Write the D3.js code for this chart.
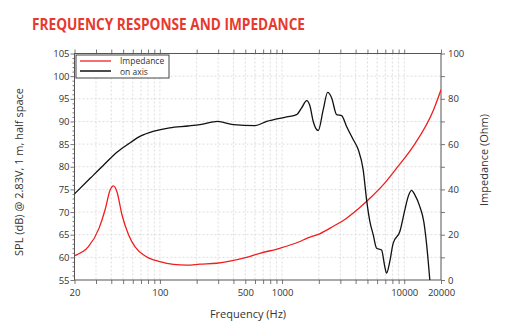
<!DOCTYPE html>
<html>
<meta charset="utf-8">
<style>
  body { margin: 0; background: #fff; }
  text { font-family: "Open Sans", "DejaVu Sans", sans-serif; fill: #333; }
  .grid line { stroke: #ddd; stroke-dasharray: 2,2; }
</style>
<body>
<script src="https://d3js.org/d3.v7.min.js"></script>
<script>
// SPL on axis (dB)
const splFreq = [20, 27, 35, 45, 55, 70, 88, 120, 170, 213, 298, 399, 600, 748, 1092, 1314, 1446, 1590, 1692, 1800, 1978, 2173, 2361, 2547, 2796, 3072, 3374, 3820, 4200, 4614, 4920, 5236, 5572, 5944, 6520, 6940, 7165, 7621, 8114, 9207, 10120, 10770, 11480, 12220, 13420, 14460, 15220, 16200];
const splDb = [74, 77.5, 80.5, 83.3, 85, 86.8, 87.8, 88.6, 89, 89.3, 90, 89.3, 89.1, 90, 91, 91.5, 93, 94.6, 93.4, 90, 88, 92.6, 96.4, 95.2, 91.5, 91.3, 88.9, 86, 83.8, 79.3, 72.7, 67.9, 65, 62, 61.6, 57.9, 56.5, 59.1, 63.1, 65.7, 70.5, 73.4, 74.8, 73.8, 71.2, 67.9, 63.1, 55];

// Impedance (Ohm)
const zFreq = [20, 26, 31.8, 35.6, 39.2, 41.7, 44.5, 48.9, 55.5, 62.9, 75.8, 100, 129, 166, 213, 292, 500, 657, 958, 1398, 1590, 2034, 2609, 3374, 4330, 5236, 6720, 8660, 11840, 17400, 20000];
const zOhm = [10.8, 14.7, 22.9, 31, 39.8, 41.6, 39, 28.8, 19.9, 14.5, 10.6, 8.1, 6.9, 6.6, 7.0, 7.4, 9.9, 11.8, 14.0, 17, 18.4, 20.4, 23.6, 27.3, 32, 36.1, 42, 49.4, 59, 75.2, 84];

const freqTicks = [20, 100, 500, 1000, 10000, 20000];
const dbTicks = [55, 60, 65, 70, 75, 80, 85, 90, 95, 100, 105];
const ohmTicks = [0, 20, 40, 60, 80, 100];

const width = 521, height = 335;
const m = { left: 74.5, right: 441, top: 53.5, bottom: 280 };

const svg = d3.select("body").append("svg")
  .attr("width", width)
  .attr("height", height);

const x = d3.scaleLog().domain([20, 20000]).range([m.left, m.right]);
const y = d3.scaleLinear().domain([55, 105]).range([m.bottom, m.top]);
const yz = d3.scaleLinear().domain([0, 100]).range([m.bottom, m.top]);

// log minor positions
let minor = [];
[10, 100, 1000, 10000].forEach(d => {
  for (let k = 1; k < 10; k++) {
    let v = d * k;
    if (v >= 20 && v <= 20000) minor.push(v);
  }
});

// grid
const grid = svg.append("g").attr("class", "grid");
grid.selectAll(".gv").data(minor.filter(v => v > 20 && v < 20000)).enter().append("line")
  .attr("x1", d => x(d)).attr("x2", d => x(d))
  .attr("y1", m.top).attr("y2", m.bottom);
grid.selectAll(".gh").data(dbTicks.slice(1, -1)).enter().append("line")
  .attr("x1", m.left).attr("x2", m.right)
  .attr("y1", d => y(d)).attr("y2", d => y(d));

// axes
const axB = svg.append("g").attr("transform", `translate(0,${m.bottom})`)
  .call(d3.axisBottom(x).tickValues(minor).tickSize(4).tickFormat(d => freqTicks.includes(d) ? d : ""));
const axT = svg.append("g").attr("transform", `translate(0,${m.top})`)
  .call(d3.axisTop(x).tickValues(minor).tickSize(4).tickFormat(""));
const axL = svg.append("g").attr("transform", `translate(${m.left},0)`)
  .call(d3.axisLeft(y).tickValues(d3.range(55, 106, 1)).tickSize(2).tickFormat(d => dbTicks.includes(d) ? d : ""));
axL.selectAll(".tick line").filter(d => d % 5 === 0).attr("x2", -4);
const axR = svg.append("g").attr("transform", `translate(${m.right},0)`)
  .call(d3.axisRight(yz).tickValues(d3.range(0, 101, 10)).tickSize(4).tickFormat(d => ohmTicks.includes(d) ? d : ""));

[axB, axT, axL, axR].forEach(a => {
  a.select(".domain").remove();
  a.selectAll(".tick line").attr("stroke", "#777");
  a.selectAll("text").attr("font-size", 9.5).attr("fill", "#333")
    .attr("font-family", "'Open Sans', sans-serif");
});
axB.selectAll("text").attr("dy", "0.95em");

// frame
svg.append("rect")
  .attr("x", m.left).attr("y", m.top)
  .attr("width", m.right - m.left).attr("height", m.bottom - m.top)
  .attr("fill", "none").attr("stroke", "#555").attr("stroke-width", 1);

// curves
const clip = svg.append("clipPath").attr("id", "c").append("rect")
  .attr("x", m.left).attr("y", m.top).attr("width", m.right - m.left).attr("height", m.bottom - m.top);

const lineSpl = d3.line().curve(d3.curveMonotoneX).x((d, i) => x(splFreq[i])).y(d => y(d));
const lineZ = d3.line().curve(d3.curveMonotoneX).x((d, i) => x(zFreq[i])).y(d => yz(d));

svg.append("path").datum(zOhm).attr("clip-path", "url(#c)")
  .attr("d", lineZ).attr("fill", "none").attr("stroke", "#f01e1e").attr("stroke-width", 1.3);
svg.append("path").datum(splDb).attr("clip-path", "url(#c)")
  .attr("d", lineSpl).attr("fill", "none").attr("stroke", "#111").attr("stroke-width", 1.3);

// legend
const lg = svg.append("g");
lg.append("rect").attr("x", 76).attr("y", 55).attr("width", 93).attr("height", 23)
  .attr("fill", "#fff").attr("stroke", "#444");
lg.append("line").attr("x1", 80).attr("x2", 111).attr("y1", 61).attr("y2", 61)
  .attr("stroke", "#f04040").attr("stroke-width", 1.5);
lg.append("line").attr("x1", 80).attr("x2", 111).attr("y1", 71).attr("y2", 71)
  .attr("stroke", "#111").attr("stroke-width", 1.5);
lg.append("text").attr("x", 120).attr("y", 63.5).attr("font-size", 8.5).attr("fill", "#111").text("Impedance");
lg.append("text").attr("x", 120).attr("y", 74.5).attr("font-size", 8.5).attr("fill", "#111").text("on axis");

// titles
svg.append("text").attr("x", 32).attr("y", 30)
  .attr("font-family", "'DejaVu Sans Condensed', 'Liberation Sans Narrow', sans-serif")
  .attr("font-weight", "bold").attr("font-size", 16.5)
  .attr("textLength", 273).attr("lengthAdjust", "spacingAndGlyphs")
  .style("fill", "#e8392f")
  .text("FREQUENCY RESPONSE AND IMPEDANCE");

svg.append("text").attr("x", 248).attr("y", 318).attr("text-anchor", "middle")
  .attr("font-size", 11).text("Frequency (Hz)");
svg.append("text").attr("transform", "translate(23,172) rotate(-90)").attr("text-anchor", "middle")
  .attr("font-size", 11).text("SPL (dB) @ 2.83V, 1 m, half space");
svg.append("text").attr("transform", "translate(488,160) rotate(-90)").attr("text-anchor", "middle")
  .attr("font-size", 11).text("Impedance (Ohm)");
</script>
</body>
</html>
